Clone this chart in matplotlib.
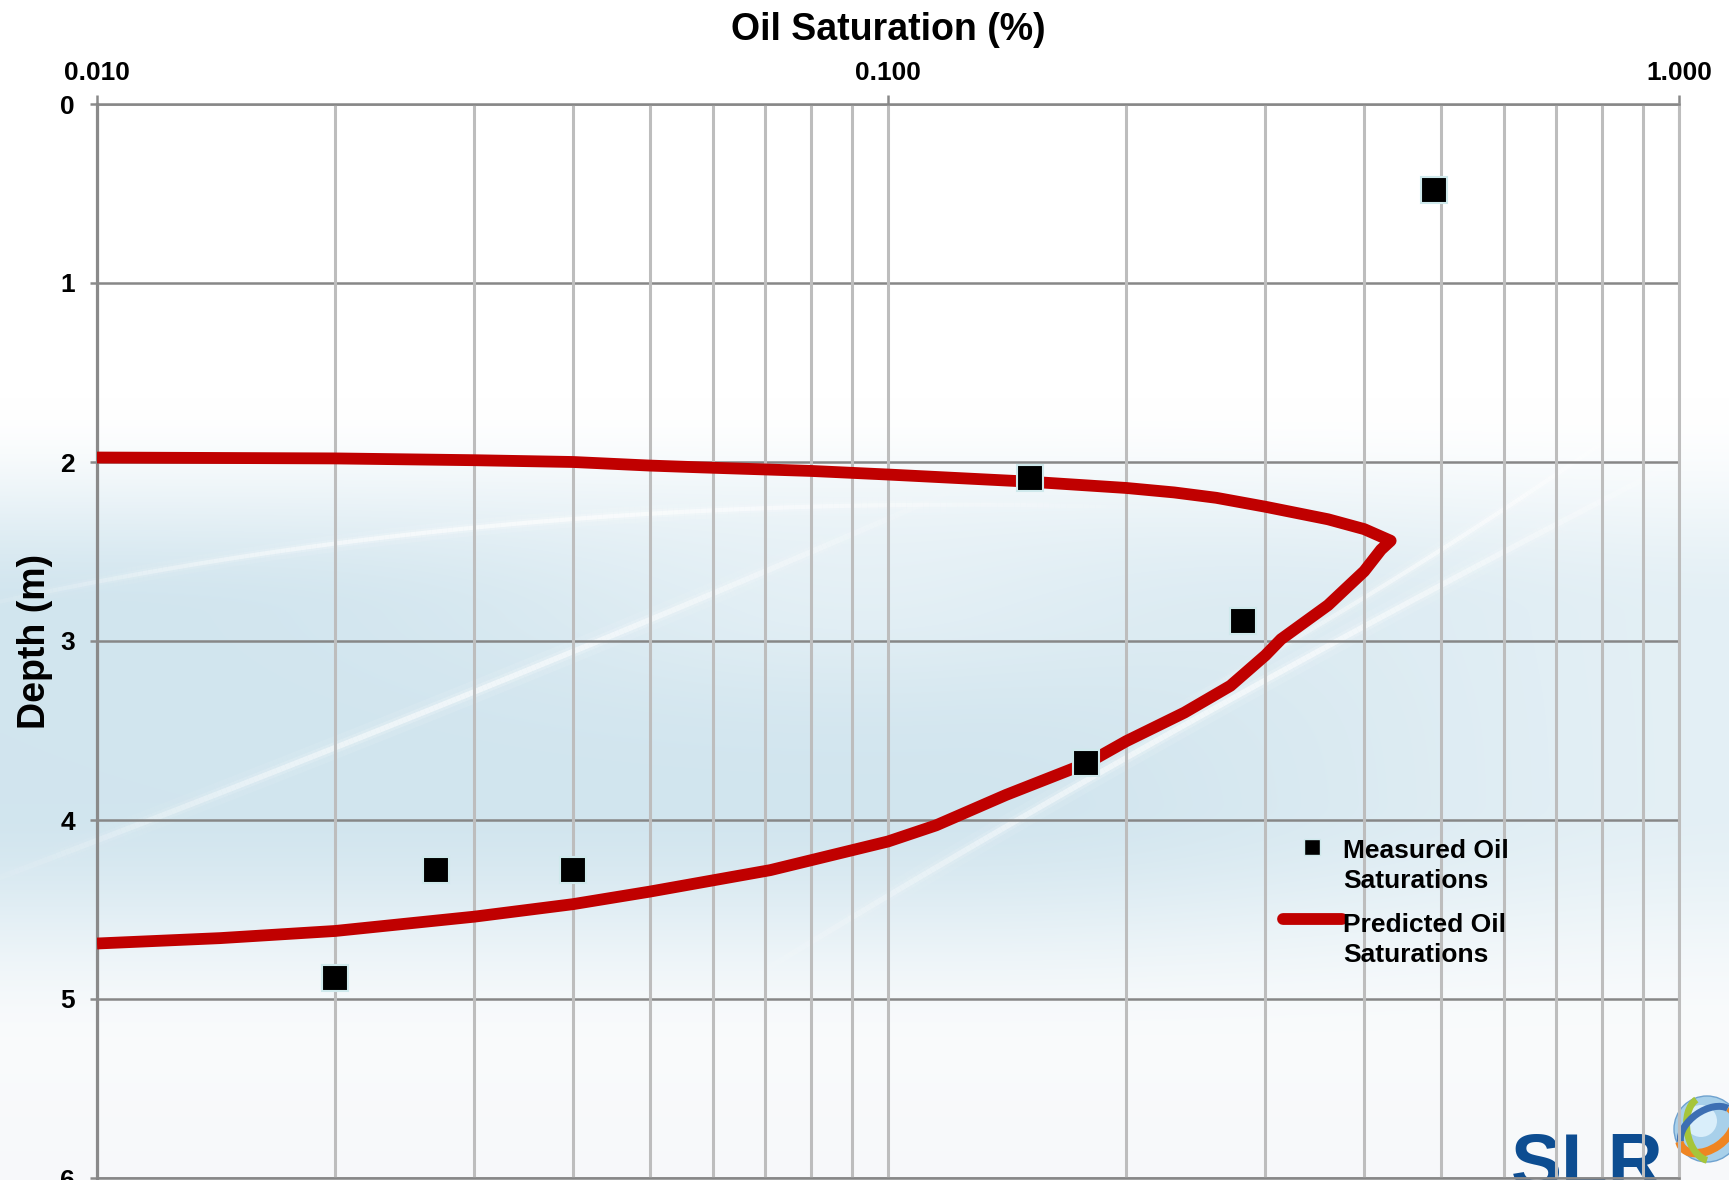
import numpy as np
import matplotlib
matplotlib.use("Agg")
import matplotlib.pyplot as plt
from matplotlib.collections import LineCollection
from matplotlib.patches import Circle, Arc
from matplotlib.ticker import FixedLocator, NullFormatter

plt.rcParams["font.family"] = ["Liberation Sans", "DejaVu Sans"]
plt.rcParams["font.weight"] = "bold"

# Measured oil saturations (fraction) with sample depths (m)
measured_sat = [0.49, 0.151, 0.281, 0.178, 0.0268, 0.040, 0.020]
measured_depth = [0.48, 2.09, 2.89, 3.68, 4.28, 4.28, 4.88]

# Predicted oil saturation profile, shallow to deep
predicted_sat = [0.010, 0.020, 0.030, 0.040, 0.050, 0.058, 0.080, 0.100,
                 0.151, 0.200, 0.230, 0.260, 0.300, 0.360, 0.400, 0.432,
                 0.420, 0.400, 0.360, 0.314, 0.300, 0.271, 0.237, 0.200,
                 0.179, 0.141, 0.115, 0.100, 0.071, 0.050, 0.040, 0.030,
                 0.020, 0.0143, 0.010]
predicted_depth = [1.975, 1.98, 1.99, 2.00, 2.02, 2.03, 2.05, 2.07,
                   2.11, 2.145, 2.17, 2.20, 2.25, 2.32, 2.375, 2.44,
                   2.49, 2.61, 2.80, 2.99, 3.08, 3.25, 3.40, 3.56,
                   3.68, 3.86, 4.03, 4.12, 4.28, 4.40, 4.47, 4.54,
                   4.62, 4.66, 4.69]

x_ticks = [0.01, 0.1, 1.0]
x_tick_labels = ["0.010", "0.100", "1.000"]
y_ticks = [0, 1, 2, 3, 4, 5, 6]
y_tick_labels = ["0", "1", "2", "3", "4", "5", "6"]

W, H = 1729, 1180
fig = plt.figure(figsize=(W / 100, H / 100), dpi=100)

# ---------- slide background ----------
bg = fig.add_axes([0, 0, 1, 1], zorder=-10)
bg.set_xlim(0, W)
bg.set_ylim(H, 0)
bg.axis("off")


def smooth(a, b, v):
    u = np.clip((v - a) / (b - a), 0, 1)
    return u * u * (3 - 2 * u)


hh, ww = 295, 432
yy, xx = np.mgrid[0:hh, 0:ww]
t = (yy + 0.5) / hh
s = (xx + 0.5) / ww
band = smooth(0.34, 0.52, t) * (1 - smooth(0.68, 0.90, t))
band *= 1 - 0.40 * smooth(0.55, 1.0, s)
# lighter oval in the middle of the band
oval = np.exp(-(((s - 0.50) / 0.22) ** 2 + ((t - 0.50) / 0.09) ** 2))
band *= 1 - 0.40 * oval
white = np.array([1.0, 1.0, 1.0])
blue = np.array([0.82, 0.898, 0.935])
img = white - band[..., None] * (white - blue)
img = img - (0.03 * smooth(0.7, 1.0, t) * (1 - band))[..., None] * np.array([1, 0.8, 0.6])
bg.imshow(np.clip(img, 0, 1), extent=(0, W, H, 0), aspect="auto",
          interpolation="bilinear", zorder=0)


def swoosh(p0, p1, p2, width, alpha):
    tt = np.linspace(0, 1, 240)[:, None]
    pts = (1 - tt) ** 2 * np.array(p0) + 2 * (1 - tt) * tt * np.array(p1) + tt ** 2 * np.array(p2)
    segs = np.stack([pts[:-1], pts[1:]], axis=1)
    fade = np.sin(np.pi * tt[:-1, 0]) ** 1.2
    for lw, a in [(width * 4.0, alpha * 0.18), (width * 2.0, alpha * 0.35), (width, alpha)]:
        cols = np.zeros((len(segs), 4))
        cols[:, :3] = 1.0
        cols[:, 3] = a * fade
        bg.add_collection(LineCollection(segs, colors=cols, linewidths=lw, zorder=1))


swoosh((-80, 620), (500, 480), (1200, 510), 3, 0.6)
swoosh((-60, 900), (500, 690), (1000, 470), 4, 0.55)
swoosh((700, 1010), (1200, 700), (1800, 400), 4, 0.55)
swoosh((1150, 720), (1450, 560), (1760, 330), 3, 0.5)

# company mark, lower right
bg.text(1511, 1187, "SLR", fontsize=55, color="#0d4d91", fontweight="bold",
        ha="left", va="baseline", zorder=2)
gc = (1707, 1129)
bg.add_patch(Circle(gc, 33, facecolor="#a8d0ea", edgecolor="#6fa2cf", lw=1, zorder=2))
bg.add_patch(Circle((gc[0] - 6, gc[1] - 8), 16, facecolor="#d9eefa", edgecolor="none", zorder=2))
bg.add_patch(Arc(gc, 62, 40, angle=-35, theta1=-10, theta2=190, color="#ef8522", lw=6, zorder=3))
bg.add_patch(Arc(gc, 40, 64, angle=-10, theta1=100, theta2=260, color="#a6c53a", lw=5, zorder=3))
bg.add_patch(Arc(gc, 60, 36, angle=-35, theta1=190, theta2=350, color="#3d6fb3", lw=5, zorder=3))

# ---------- chart ----------
ax_left, ax_right, ax_top, ax_bottom = 97, 1679, 104, 1178
ax = fig.add_axes([ax_left / W, (H - ax_bottom) / H,
                   (ax_right - ax_left) / W, (ax_bottom - ax_top) / H])
ax.set_facecolor("none")
ax.set_xscale("log")
ax.set_xlim(0.01, 1.0)
ax.set_ylim(6, 0)

ax.xaxis.tick_top()
ax.xaxis.set_label_position("top")
ax.set_xticks(x_ticks)
ax.set_xticklabels(x_tick_labels)
ax.xaxis.set_minor_locator(FixedLocator([k * 10.0 ** e for e in (-2, -1) for k in range(2, 10)]))
ax.xaxis.set_minor_formatter(NullFormatter())
ax.tick_params(axis="x", which="major", direction="out", length=6.5, width=1.8,
               color="#8a8a8a", pad=7, labelsize=19)
ax.tick_params(axis="x", which="minor", length=0)
ax.set_yticks(y_ticks)
ax.set_yticklabels(y_tick_labels)
ax.tick_params(axis="y", direction="out", length=5, width=1.8, color="#8a8a8a",
               pad=11, labelsize=19)

ax.set_axisbelow(True)
ax.yaxis.set_zorder(0.4)
ax.grid(axis="x", which="both", color="#bdbdbd", lw=2.2)
ax.grid(axis="y", which="major", color="#878787", lw=1.8)

ax.spines["left"].set_color("#8a8a8a")
ax.spines["left"].set_linewidth(2.3)
ax.spines["right"].set_color("#bdbdbd")
ax.spines["right"].set_linewidth(2.2)
for side in ("top", "bottom"):
    ax.spines[side].set_color("#878787")
    ax.spines[side].set_linewidth(1.8)

ax.set_xlabel("Oil Saturation (%)", fontsize=27, fontweight="bold", labelpad=15)
ax.set_ylabel("Depth (m)", fontsize=27, fontweight="bold", labelpad=5)

ax.plot(predicted_sat, predicted_depth, color="#c00000", lw=8.5,
        solid_joinstyle="round", solid_capstyle="butt", zorder=3)
ax.plot(measured_sat, measured_depth, ls="none", marker="s", ms=18.5,
        mfc="black", mec="#cfe9ec", mew=1.5, zorder=4)

# legend, keys aligned with the first line of each label
ax.plot([0.768], [0.3082], transform=ax.transAxes, ls="none", marker="s",
        ms=11.5, mfc="black", mec="#cfe9ec", mew=1, clip_on=False, zorder=5)
ax.plot([0.7497, 0.787], [0.2412, 0.2412], transform=ax.transAxes,
        color="#c00000", lw=8.5, solid_capstyle="round", clip_on=False, zorder=5)
ax.text(0.7876, 0.270, "Measured Oil\nSaturations", transform=ax.transAxes,
        fontsize=19, fontweight="bold", ha="left", va="baseline",
        linespacing=1.3, zorder=5)
ax.text(0.7876, 0.2011, "Predicted Oil\nSaturations", transform=ax.transAxes,
        fontsize=19, fontweight="bold", ha="left", va="baseline",
        linespacing=1.3, zorder=5)

fig.savefig("out.png", dpi=100)
